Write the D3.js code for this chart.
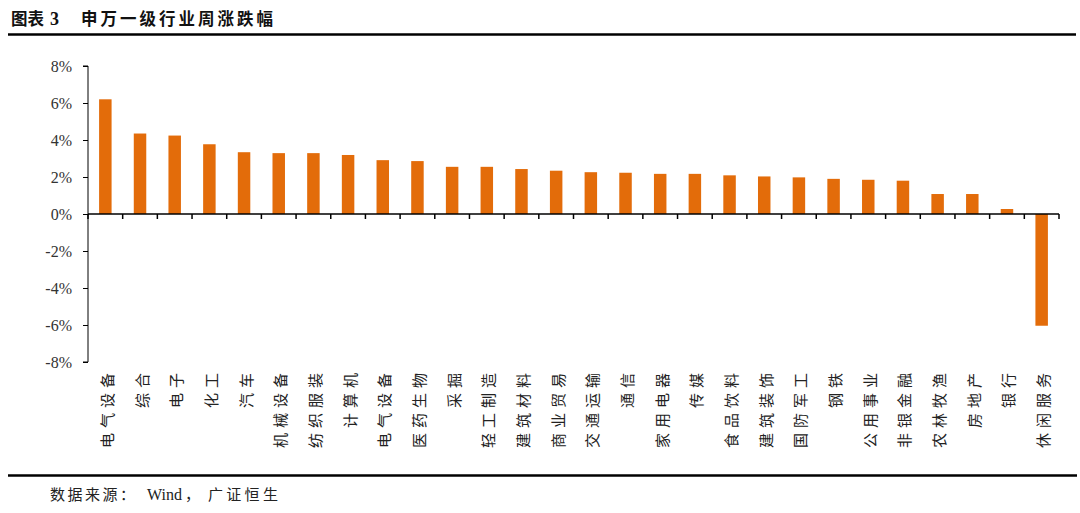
<!DOCTYPE html>
<html>
<head>
<meta charset="utf-8">
<script src="https://cdn.jsdelivr.net/npm/d3@7"></script>
<style>
  html, body { margin: 0; padding: 0; background: #fff; }
  svg { display: block; }
</style>
</head>
<body>
<svg id="chart" width="1080" height="513"></svg>
<script>
const categories = ["电气设备","综合","电子","化工","汽车","机械设备","纺织服装","计算机","电气设备","医药生物","采掘","轻工制造","建筑材料","商业贸易","交通运输","通信","家用电器","传媒","食品饮料","建筑装饰","国防军工","钢铁","公用事业","非银金融","农林牧渔","房地产","银行","休闲服务"];
const weeklyChange = [6.20,4.35,4.24,3.77,3.34,3.29,3.29,3.19,2.91,2.86,2.55,2.55,2.43,2.34,2.26,2.23,2.17,2.17,2.09,2.03,1.98,1.90,1.85,1.80,1.08,1.08,0.27,-6.04];
const yTicks = [-8,-6,-4,-2,0,2,4,6,8];
const titleParts = ["图表", "3", "申万一级行业周涨跌幅"];
const sourceParts = ["数据来源：", "Wind", "，", "广证恒生"];

(function () {
const svg = d3.select("#chart");
const mLeft = 88, mRight = 1059, mTop = 66, mBottom = 362;
const cjk = "'Noto Sans CJK SC', sans-serif";
const serif = "'Liberation Serif', serif";

const x = d3.scaleBand().domain(d3.range(categories.length)).range([mLeft, mRight]).paddingInner(0.64).paddingOuter(0.32);
const y = d3.scaleLinear().domain([-8, 8]).range([mBottom, mTop]);

// Title
const title = svg.append("text").attr("y", 25)
  .attr("font-family", cjk).attr("font-weight", "bold")
  .attr("font-size", 16.5).attr("fill", "#111");
title.selectAll("tspan").data(titleParts).join("tspan")
  .attr("x", (d, i) => [11, 50, 81][i])
  .attr("letter-spacing", (d, i) => i === 2 ? 3 : 0)
  .attr("font-family", (d, i) => i === 1 ? serif : null)
  .attr("font-size", (d, i) => i === 1 ? 18 : null)
  .text(d => d);
svg.append("line").attr("x1", 8).attr("x2", 1076).attr("y1", 34.5).attr("y2", 34.5)
  .attr("stroke", "#000").attr("stroke-width", 2.5);

// Bars
svg.append("g").selectAll("rect").data(weeklyChange).join("rect")
  .attr("x", (d, i) => x(i))
  .attr("width", x.bandwidth())
  .attr("y", d => y(Math.max(0, d)))
  .attr("height", d => Math.abs(y(d) - y(0)))
  .attr("fill", "#E36C0A");

// Y axis
const yAxis = d3.axisLeft(y).tickValues(yTicks).tickFormat(d => d + "%").tickSize(5).tickPadding(11);
const yg = svg.append("g").attr("transform", `translate(${mLeft},0)`).call(yAxis);
yg.select(".domain").attr("stroke", "#000").attr("d", `M-5,${mTop}H0V${mBottom}H-5`);
yg.selectAll(".tick line").attr("stroke", "#000");
yg.selectAll(".tick text").attr("font-family", serif).attr("font-size", 16).attr("fill", "#333");

// X axis at zero with ticks at band boundaries
const xg = svg.append("g");
xg.append("line").attr("x1", mLeft).attr("x2", mRight).attr("y1", y(0)).attr("y2", y(0))
  .attr("stroke", "#000").attr("stroke-width", 1.5);
const step = (mRight - mLeft) / categories.length;
const bounds = d3.range(categories.length + 1).map(i => mLeft + i * step);
xg.selectAll("line.tk").data(bounds).join("line").attr("class", "tk")
  .attr("x1", d => d).attr("x2", d => d).attr("y1", y(0)).attr("y2", y(0) + 5)
  .attr("stroke", "#000").attr("stroke-width", 1.5);

// Category labels (rotated -90, each character placed with fixed pitch)
const glyph = 15, pitch = 20;
const lg = svg.append("g").selectAll("g").data(categories).join("g")
  .attr("transform", (d, i) => `translate(${x(i) + x.bandwidth() / 2 + 1},373) rotate(-90)`);
lg.selectAll("text").data(d => Array.from(d).map((c, k, arr) => ({ c, k, n: arr.length }))).join("text")
  .attr("x", o => -((o.n - 1 - o.k) * pitch + glyph))
  .attr("y", 0)
  .attr("dominant-baseline", "central")
  .attr("font-family", cjk).attr("font-size", glyph).attr("fill", "#222")
  .text(o => o.c);

// Bottom rule and source
svg.append("line").attr("x1", 8).attr("x2", 1077).attr("y1", 475.5).attr("y2", 475.5)
  .attr("stroke", "#000").attr("stroke-width", 2.5);
const src = svg.append("text").attr("y", 500).attr("font-size", 15).attr("fill", "#222");
src.selectAll("tspan").data(sourceParts).join("tspan")
  .attr("x", (d, i) => [50, 147, 185, 208][i])
  .attr("font-family", (d, i) => i === 1 ? serif : cjk)
  .attr("font-size", (d, i) => i === 1 ? 16 : 15)
  .attr("letter-spacing", (d, i) => i === 0 ? 2.5 : (i === 3 ? 3.3 : 0))
  .text(d => d);
})();
</script>
</body>
</html>
